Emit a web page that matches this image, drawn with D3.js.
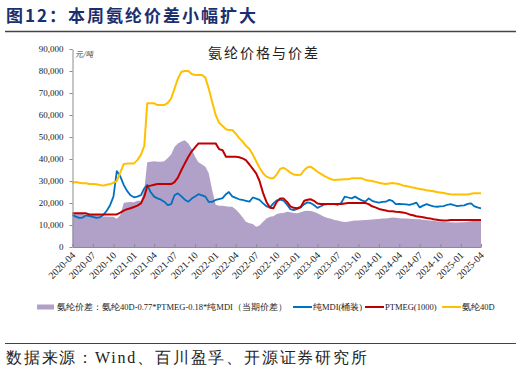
<!DOCTYPE html>
<meta charset="utf-8">
<style>
body { margin: 0; background: #fff; }
.serif { font-family: "Liberation Serif", "DejaVu Serif", serif; }
.cjk { font-family: "Noto Sans CJK SC", sans-serif; }
.axis path, .axis line { stroke: #8c8c8c; }
</style>
<body>
<script src="https://d3js.org/d3.v7.min.js"></script>
<script>

// semi-monthly samples, 2020-04-01 .. 2025-04-01 (values in thousand yuan/ton)
var yarn40D = [29.2,29.5,29.2,29.0,29.0,28.6,28.6,28.5,28.2,27.9,28.3,28.6,29.2,30.0,34.0,37.7,37.9,38.0,38.0,39.5,
  42.0,46.0,65.3,65.3,65.3,64.5,64.5,64.5,65.5,67.5,72.0,76.5,79.7,80.0,80.0,78.6,78.2,78.2,78.2,77.0,
  72.0,66.0,60.0,56.5,55.0,53.5,53.2,53.2,51.5,49.5,48.0,46.0,44.5,42.0,39.0,36.0,33.5,32.0,31.3,31.2,
  33.0,35.5,36.0,35.0,33.8,33.0,32.7,32.8,35.0,36.3,36.5,35.5,34.2,33.2,32.3,31.5,30.8,30.5,30.6,30.7,
  30.8,30.8,31.2,31.2,31.2,31.2,30.5,30.2,30.0,29.6,29.2,28.9,28.6,28.9,29.1,28.9,28.6,28.0,27.7,27.4,
  27.0,26.7,26.4,26.1,25.8,25.6,25.3,25.0,24.8,24.5,24.2,24.0,23.9,23.9,23.9,23.9,23.9,24.2,24.4,24.4,24.4];

var ptmeg = [15.3,15.3,15.3,15.3,15.3,14.8,14.8,14.8,14.8,14.8,14.8,14.8,14.8,14.8,15.6,16.5,17.2,17.6,18.2,18.8,
  19.8,23.0,27.5,27.9,28.3,28.6,28.6,28.6,28.6,28.6,29.5,31.5,35.0,38.0,41.0,43.5,45.3,47.1,47.1,47.1,
  47.1,47.1,47.1,44.5,44.0,41.0,41.0,41.0,41.0,40.8,40.3,39.5,37.5,35.5,33.5,30.0,24.5,20.5,17.8,17.6,
  20.5,22.1,22.0,20.5,18.5,17.8,17.6,18.2,21.0,21.5,21.7,21.0,19.8,19.5,19.5,19.5,19.5,19.5,19.5,19.5,
  19.8,20.0,20.0,20.0,20.0,20.0,20.0,19.5,18.5,18.0,17.3,16.9,16.6,16.2,16.2,16.0,15.9,15.7,15.4,14.8,
  14.4,14.0,13.8,13.5,13.2,13.0,12.6,12.4,12.2,12.0,12.0,12.3,12.3,12.3,12.3,12.3,12.3,12.3,12.3,12.3,12.3];

var mdi = [14.5,13.8,13.2,13.4,14.4,14.0,13.7,13.2,13.5,14.5,16.5,19.0,22.9,34.5,32.0,28.2,25.5,23.5,22.6,22.9,
  23.6,26.7,28.2,25.0,22.9,22.1,21.5,20.6,19.0,19.5,23.5,24.4,23.0,21.5,20.6,22.0,23.0,24.0,23.5,22.9,
  20.5,20.5,21.4,21.8,22.2,24.0,25.0,23.0,22.3,21.7,21.4,21.0,20.6,22.5,22.0,21.4,19.8,18.5,18.0,19.8,
  21.2,21.5,21.1,19.2,17.2,16.8,17.3,18.0,19.5,20.3,20.0,19.1,17.8,18.5,19.3,19.5,19.5,19.5,19.2,20.0,
  22.9,22.5,22.1,22.9,22.0,21.2,20.6,22.1,21.0,20.5,20.2,20.5,20.6,21.4,21.0,19.5,19.6,19.5,19.4,19.1,
  19.6,20.2,18.0,18.8,19.5,18.9,18.5,18.3,18.5,18.6,19.2,19.5,19.0,18.6,18.8,18.9,19.6,19.8,18.6,18.0,17.6];

var spread = [14.8,15.2,15.2,15.0,14.6,14.7,14.6,14.6,14.4,13.9,13.9,13.8,13.7,12.8,14.5,20.0,20.3,20.5,20.3,21.0,
  21.0,26.0,38.5,38.8,39.0,38.8,38.8,39.0,40.5,42.0,45.5,47.0,48.0,48.5,47.0,44.5,41.0,38.5,37.5,36.5,
  33.5,26.0,19.2,18.8,18.8,18.5,18.3,18.3,17.0,15.5,13.5,11.5,10.8,10.4,9.2,9.8,11.5,13.0,13.8,14.0,
  15.0,15.3,15.5,16.0,15.8,15.5,15.3,15.8,16.4,16.5,16.4,16.0,15.3,14.6,13.8,13.2,12.8,12.3,12.0,11.6,
  11.4,11.5,11.8,12.0,12.1,12.2,12.3,12.4,12.5,12.6,12.7,12.9,13.0,13.2,13.4,13.3,13.1,13.0,12.9,12.8,
  12.7,12.6,12.6,12.4,12.2,12.0,11.9,11.7,11.5,11.5,11.3,11.2,11.1,11.1,11.2,11.3,11.5,11.7,11.9,12.1,12.3];

var yTicks = [0,10000,20000,30000,40000,50000,60000,70000,80000,90000];

// dates for the samples: 1st and 16th of each month
var dates = spread.map(function(d, i) {
  return new Date(2020, 3 + Math.floor(i / 2), i % 2 ? 16 : 1);
});

var W = 521, H = 374;
var svg = d3.select("body").append("svg").attr("width", W).attr("height", H);

// header
svg.append("text").attr("class", "cjk")
  .attr("x", 6).attr("y", 22)
  .style("font-size", "17px").style("font-weight", "bold")
  .style("letter-spacing", "2px").attr("fill", "#1a2f6e")
  .text("图12：本周氨纶价差小幅扩大");
svg.append("line").attr("x1", 5).attr("x2", 516).attr("y1", 31.5).attr("y2", 31.5)
  .attr("stroke", "#444").attr("stroke-width", 1.5);

// scales
var x = d3.scaleTime()
  .domain([new Date(2020, 3, 1), new Date(2025, 3, 1)])
  .range([72.5, 481]);
var y = d3.scaleLinear().domain([0, 90000]).range([247, 49]);

// area (spread)
var area = d3.area()
  .x(function(d, i) { return x(dates[i]); })
  .y0(y(0))
  .y1(function(d) { return y(d * 1000); });
svg.append("path").datum(spread).attr("d", area).attr("fill", "#b1a0c7");

// lines
var line = d3.line()
  .x(function(d, i) { return x(dates[i]); })
  .y(function(d) { return y(d * 1000); });

var series = [
  {vals: mdi, color: "#0070c0", w: 1.8},
  {vals: ptmeg, color: "#c00000", w: 2},
  {vals: yarn40D, color: "#ffc000", w: 2}
];
series.forEach(function(s) {
  svg.append("path").datum(s.vals).attr("d", line)
    .attr("fill", "none").attr("stroke", s.color)
    .attr("stroke-width", s.w).attr("stroke-linejoin", "round");
});

// axes
var yAxis = svg.append("g").attr("class", "axis serif")
  .attr("transform", "translate(72.5,0)")
  .call(d3.axisLeft(y).tickValues(yTicks).tickSize(3).tickSizeOuter(0)
    .tickFormat(d3.format(",")));
yAxis.selectAll("text").attr("x", -9).style("font-size", "9px").attr("fill", "#222");

var xTicks = d3.timeMonth.every(3).range(new Date(2020, 3, 1), new Date(2025, 3, 2));
var xAxis = svg.append("g").attr("class", "axis serif")
  .attr("transform", "translate(0,247)")
  .call(d3.axisBottom(x).tickValues(xTicks).tickSize(-3).tickSizeOuter(0)
    .tickFormat(d3.timeFormat("%Y-%m")));
xAxis.selectAll("text")
  .style("font-size", "10px").attr("fill", "#222")
  .style("text-anchor", "end")
  .attr("y", 0).attr("dy", 0)
  .attr("transform", "translate(3,9) rotate(-45)");

// inner title and unit
svg.append("text").attr("class", "cjk")
  .attr("x", 264).attr("y", 58).attr("text-anchor", "middle")
  .style("font-size", "14px").style("letter-spacing", "2px").attr("fill", "#222")
  .text("氨纶价格与价差");
svg.append("text").attr("class", "cjk")
  .attr("x", 75).attr("y", 57)
  .style("font-size", "7.5px").style("font-style", "italic").attr("fill", "#333")
  .text("元/吨");

// legend
var ly = 307;
var leg = svg.append("g").style("font-size", "8.5px").attr("fill", "#222");
leg.append("rect").attr("x", 37).attr("y", ly - 2.5).attr("width", 17).attr("height", 5).attr("fill", "#b1a0c7");
leg.append("text").attr("class", "serif").attr("x", 57).attr("y", ly + 3)
  .text("氨纶价差：氨纶40D-0.77*PTMEG-0.18*纯MDI（当期价差）");
var legItems = [
  {x: 293, color: "#0070c0", label: "纯MDI(桶装)"},
  {x: 365, color: "#c00000", label: "PTMEG(1000)"},
  {x: 442, color: "#ffc000", label: "氨纶40D"}
];
legItems.forEach(function(d) {
  leg.append("line").attr("x1", d.x).attr("x2", d.x + 19).attr("y1", ly).attr("y2", ly)
    .attr("stroke", d.color).attr("stroke-width", 2);
  leg.append("text").attr("class", "serif").attr("x", d.x + 20).attr("y", ly + 3).text(d.label);
});

// footer
svg.append("line").attr("x1", 5).attr("x2", 516).attr("y1", 343.5).attr("y2", 343.5)
  .attr("stroke", "#444").attr("stroke-width", 1.2);
svg.append("text").attr("class", "serif")
  .attr("x", 6).attr("y", 363)
  .style("font-size", "16px").style("letter-spacing", "1.8px").attr("fill", "#222")
  .text("数据来源：Wind、百川盈孚、开源证券研究所");

</script>
</body>
